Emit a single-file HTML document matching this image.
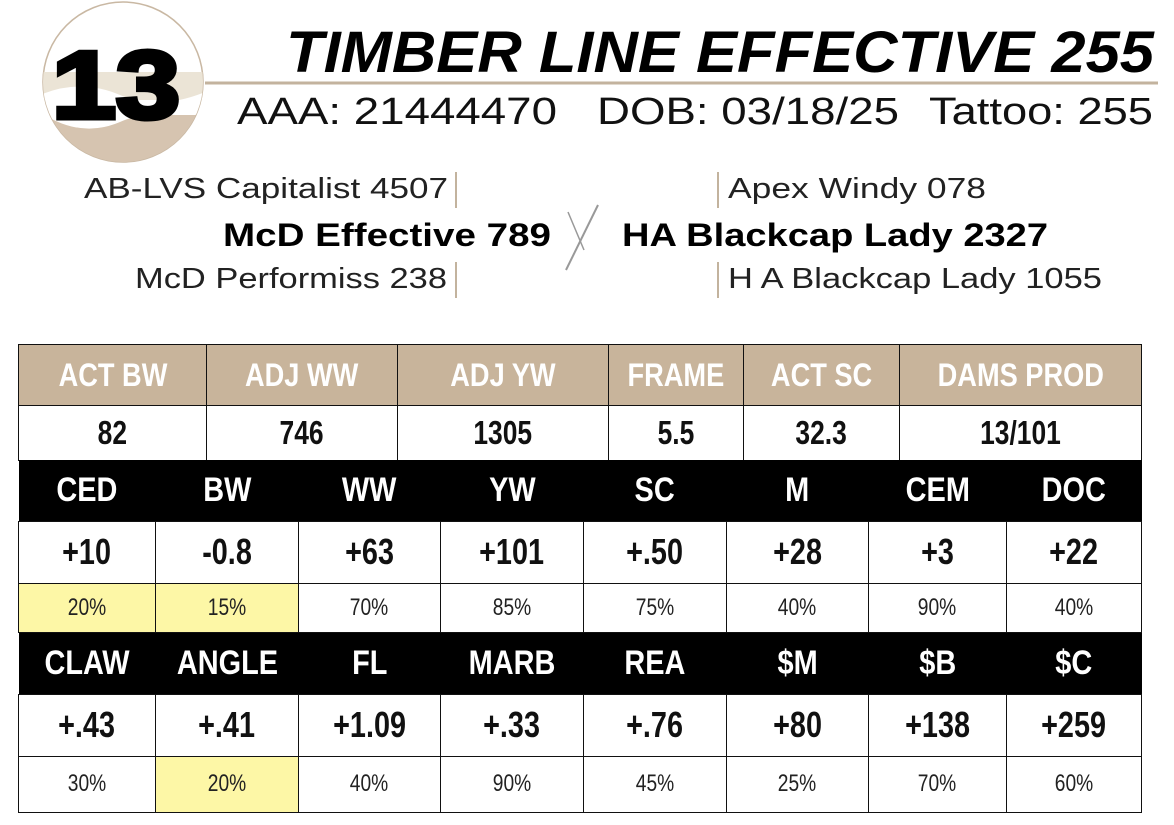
<!DOCTYPE html>
<html><head><style>
body{margin:0;width:1174px;height:825px;background:#fff;position:relative;overflow:hidden;font-family:"Liberation Sans Narrow","Liberation Sans",sans-serif}
.t{position:absolute;border-collapse:collapse;left:18px;width:1124px}
.t td{border:1.5px solid #111;text-align:center;padding:0;font-weight:bold;color:#111}
.cond{display:inline-block;transform:scaleX(0.85)}
.v{display:inline-block;transform:scaleX(0.8);font-size:36px}
.p{display:inline-block;transform:scaleX(0.8);font-size:24px;font-weight:normal;color:#222}
</style></head><body>
<svg width="1174" height="320" style="position:absolute;left:0;top:0" font-family="Liberation Sans, sans-serif">
<defs><clipPath id="c"><circle cx="123" cy="82" r="80"/></clipPath></defs>
<circle cx="123" cy="82" r="80" fill="#fff" stroke="#c9b8a3" stroke-width="1.5"/>
<g clip-path="url(#c)">
<rect x="40" y="72" width="170" height="28" fill="#ebe4d6"/>
<rect x="40" y="115" width="170" height="60" fill="#d6c4b0"/>
<path d="M40 95 Q80 78 120 95 T210 90 L210 118 Q160 105 120 122 T40 112Z" fill="#fff"/>
</g>
<text x="52" y="118" font-size="96" font-weight="bold" fill="#000" stroke="#000" stroke-width="5" textLength="128" lengthAdjust="spacingAndGlyphs">13</text>
<line x1="205" y1="83" x2="1158" y2="83" stroke="#c3b39e" stroke-width="3"/>
<text x="286" y="72" font-size="58" font-weight="bold" font-style="italic" fill="#000" textLength="868" lengthAdjust="spacingAndGlyphs">TIMBER LINE EFFECTIVE 255</text>
<text x="237" y="124" font-size="38" fill="#111" textLength="320" lengthAdjust="spacingAndGlyphs">AAA: 21444470</text>
<text x="597" y="124" font-size="38" fill="#111" textLength="302" lengthAdjust="spacingAndGlyphs">DOB: 03/18/25</text>
<text x="929" y="124" font-size="38" fill="#111" textLength="224" lengthAdjust="spacingAndGlyphs">Tattoo: 255</text>
<text x="84" y="198" font-size="29" fill="#222" textLength="364" lengthAdjust="spacingAndGlyphs">AB-LVS Capitalist 4507</text>
<line x1="456" y1="172" x2="456" y2="208" stroke="#c3b39e" stroke-width="2"/>
<text x="223" y="246" font-size="32" font-weight="bold" fill="#000" textLength="328" lengthAdjust="spacingAndGlyphs">McD Effective 789</text>
<text x="135" y="288" font-size="29" fill="#222" textLength="312" lengthAdjust="spacingAndGlyphs">McD Performiss 238</text>
<line x1="456" y1="262" x2="456" y2="298" stroke="#c3b39e" stroke-width="2"/>
<line x1="566" y1="270" x2="598" y2="205" stroke="#999" stroke-width="2"/>
<line x1="568" y1="212" x2="584" y2="250" stroke="#999" stroke-width="1.5"/>
<line x1="718" y1="172" x2="718" y2="208" stroke="#c3b39e" stroke-width="2"/>
<text x="728" y="198" font-size="29" fill="#222" textLength="258" lengthAdjust="spacingAndGlyphs">Apex Windy 078</text>
<text x="622" y="246" font-size="32" font-weight="bold" fill="#000" textLength="426" lengthAdjust="spacingAndGlyphs">HA Blackcap Lady 2327</text>
<line x1="718" y1="262" x2="718" y2="298" stroke="#c3b39e" stroke-width="2"/>
<text x="728" y="288" font-size="29" fill="#222" textLength="374" lengthAdjust="spacingAndGlyphs">H A Blackcap Lady 1055</text>
</svg>

<table class="t" style="top:344px">
<tr style="height:61px;background:#c8b49b;color:#fff;font-size:32px">
<td style="width:187px;color:#fff"><span class="cond">ACT BW</span></td><td style="width:190px;color:#fff"><span class="cond">ADJ WW</span></td><td style="width:210px;color:#fff"><span class="cond">ADJ YW</span></td><td style="width:134px;color:#fff"><span class="cond">FRAME</span></td><td style="width:155px;color:#fff"><span class="cond">ACT SC</span></td><td style="color:#fff"><span class="cond">DAMS PROD</span></td></tr>
<tr style="height:55px"><td><span class="v" style="font-size:33px">82</span></td><td><span class="v" style="font-size:33px">746</span></td><td><span class="v" style="font-size:33px">1305</span></td><td><span class="v" style="font-size:33px">5.5</span></td><td><span class="v" style="font-size:33px">32.3</span></td><td><span class="v" style="font-size:33px">13/101</span></td></tr>
</table>

<table class="t" style="top:460px">
<tr style="height:61px;background:#000;font-size:34px">
<td style="width:137px;color:#fff;border:none"><span class="cond">CED</span></td><td style="width:143px;color:#fff;border:none"><span class="cond">BW</span></td><td style="width:142px;color:#fff;border:none"><span class="cond">WW</span></td><td style="width:143px;color:#fff;border:none"><span class="cond">YW</span></td><td style="width:143px;color:#fff;border:none"><span class="cond">SC</span></td><td style="width:142px;color:#fff;border:none"><span class="cond">M</span></td><td style="width:138px;color:#fff;border:none"><span class="cond">CEM</span></td><td style="color:#fff;border:none"><span class="cond">DOC</span></td></tr>
<tr style="height:62px"><td><span class="v">+10</span></td><td><span class="v">-0.8</span></td><td><span class="v">+63</span></td><td><span class="v">+101</span></td><td><span class="v">+.50</span></td><td><span class="v">+28</span></td><td><span class="v">+3</span></td><td><span class="v">+22</span></td></tr>
<tr style="height:49px"><td style="background:#fdf7a6"><span class="p">20%</span></td><td style="background:#fdf7a6"><span class="p">15%</span></td><td><span class="p">70%</span></td><td><span class="p">85%</span></td><td><span class="p">75%</span></td><td><span class="p">40%</span></td><td><span class="p">90%</span></td><td><span class="p">40%</span></td></tr>
<tr style="height:62px;background:#000;font-size:34px">
<td style="color:#fff;border:none"><span class="cond">CLAW</span></td><td style="color:#fff;border:none"><span class="cond">ANGLE</span></td><td style="color:#fff;border:none"><span class="cond">FL</span></td><td style="color:#fff;border:none"><span class="cond">MARB</span></td><td style="color:#fff;border:none"><span class="cond">REA</span></td><td style="color:#fff;border:none"><span class="cond">$M</span></td><td style="color:#fff;border:none"><span class="cond">$B</span></td><td style="color:#fff;border:none"><span class="cond">$C</span></td></tr>
<tr style="height:62px"><td><span class="v">+.43</span></td><td><span class="v">+.41</span></td><td><span class="v">+1.09</span></td><td><span class="v">+.33</span></td><td><span class="v">+.76</span></td><td><span class="v">+80</span></td><td><span class="v">+138</span></td><td><span class="v">+259</span></td></tr>
<tr style="height:56px"><td><span class="p">30%</span></td><td style="background:#fdf7a6"><span class="p">20%</span></td><td><span class="p">40%</span></td><td><span class="p">90%</span></td><td><span class="p">45%</span></td><td><span class="p">25%</span></td><td><span class="p">70%</span></td><td><span class="p">60%</span></td></tr>
</table>
</body></html>
